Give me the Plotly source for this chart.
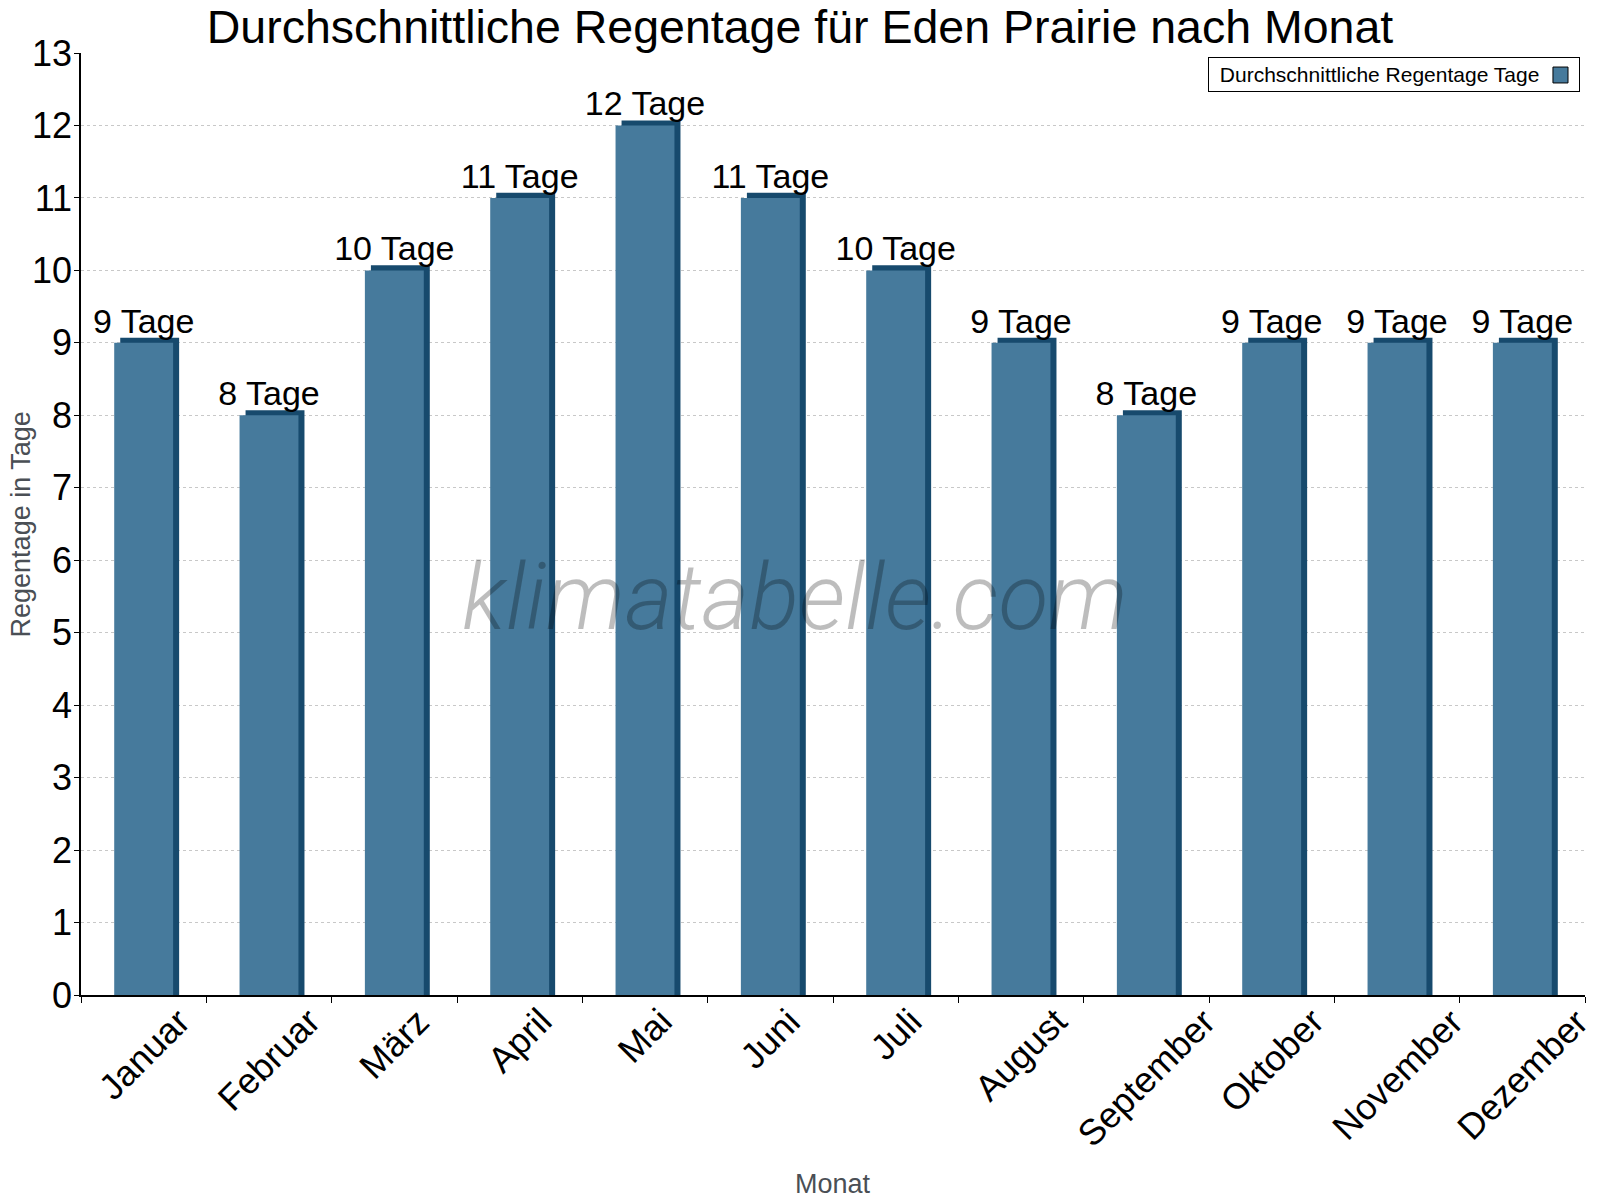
import plotly.graph_objects as go

months = ["Januar", "Februar", "März", "April", "Mai", "Juni", "Juli",
          "August", "September", "Oktober", "November", "Dezember"]
rain_days = [9, 8, 10, 11, 12, 11, 10, 9, 8, 9, 9, 9]
labels = [f"{v} Tage" for v in rain_days]

FRONT = "#467a9c"
DARK = "#174a6d"
FONT = "Liberation Sans, Arial, sans-serif"
GREY = "#4a4f55"

bar_w = 0.47
depth_x = 0.048
depth_y = 0.07

fig = go.Figure()
# dark "3D" back/side
fig.add_trace(go.Bar(
    x=months, y=[v + depth_y for v in rain_days],
    width=bar_w, offset=-bar_w / 2 + depth_x,
    marker=dict(color=DARK, line=dict(width=0)),
    showlegend=False, hoverinfo="skip",
))
# front face
fig.add_trace(go.Bar(
    x=months, y=rain_days,
    width=bar_w, offset=-bar_w / 2,
    marker=dict(color=FRONT, line=dict(width=0)),
    text=labels, textposition="outside", constraintext="none",
    textfont=dict(family=FONT, size=34, color="black"),
    cliponaxis=False,
    name="Durchschnittliche Regentage Tage", showlegend=False,
))

annotations = []
# rotated month labels, centred under each category
for m in months:
    annotations.append(dict(
        text=m, xref="x", yref="paper", x=m, y=0, yshift=-3,
        xanchor="center", yanchor="top", textangle=-45, showarrow=False,
        font=dict(family=FONT, size=36, color="black")))

annotations += [
    dict(text="Monat", xref="paper", yref="paper", x=0.5, y=-0.2006,
         xanchor="center", yanchor="middle", showarrow=False,
         font=dict(family=FONT, size=27, color=GREY)),
    dict(text="Regentage in Tage", xref="paper", yref="paper", x=-0.0396, y=0.5,
         xanchor="center", yanchor="middle", textangle=-90, showarrow=False,
         font=dict(family=FONT, size=27, color=GREY)),
    dict(text="klimatabelle.com", xref="paper", yref="paper",
         x=0.475, y=0.4225, xanchor="center", yanchor="middle",
         showarrow=False,
         font=dict(family="Roboto", size=92, color="rgba(0,0,0,0.26)",
                   style="italic", weight=300)),
    dict(text="&nbsp;Durchschnittliche Regentage Tage&nbsp;&nbsp;&nbsp;&nbsp;&nbsp;&nbsp;",
         xref="paper", yref="paper", x=0.9965, y=0.996,
         xanchor="right", yanchor="top", showarrow=False,
         bordercolor="black", borderwidth=1, bgcolor="rgba(0,0,0,0)", borderpad=5,
         font=dict(family=FONT, size=21, color="black")),
]

fig.update_layout(
    width=1600, height=1200,
    barmode="overlay",
    paper_bgcolor="white", plot_bgcolor="white",
    margin=dict(l=81, r=15, t=53, b=205, autoexpand=False),
    font=dict(family=FONT, color="black"),
    title=dict(text="Durchschnittliche Regentage für Eden Prairie nach Monat",
               x=0.5, xanchor="center", y=0.978, yanchor="middle", yref="container",
               font=dict(size=46.5, color="black", family=FONT)),
    xaxis=dict(
        type="category", range=[-0.5, 11.5], automargin=False,
        tickson="boundaries", ticks="outside", ticklen=6, tickcolor="black",
        showline=True, linecolor="black", linewidth=1.5,
        showgrid=False, showticklabels=False,
    ),
    yaxis=dict(
        range=[0, 13], dtick=1, ticks="outside", ticklen=5, tickcolor="black",
        showline=True, linecolor="black", linewidth=1.5, automargin=False,
        showgrid=True, gridcolor="#c8c8c8", griddash="dot", gridwidth=1,
        zeroline=False, ticklabelstandoff=-5,
        tickfont=dict(size=36, family=FONT, color="black"),
    ),
    annotations=annotations,
    shapes=[
        dict(type="rect", xref="paper", yref="paper",
             x0=0.9787, x1=0.9887, y0=0.9682, y1=0.9851,
             fillcolor=FRONT, line=dict(color="black", width=1), layer="above"),
    ],
)

fig.write_html("out.html")
